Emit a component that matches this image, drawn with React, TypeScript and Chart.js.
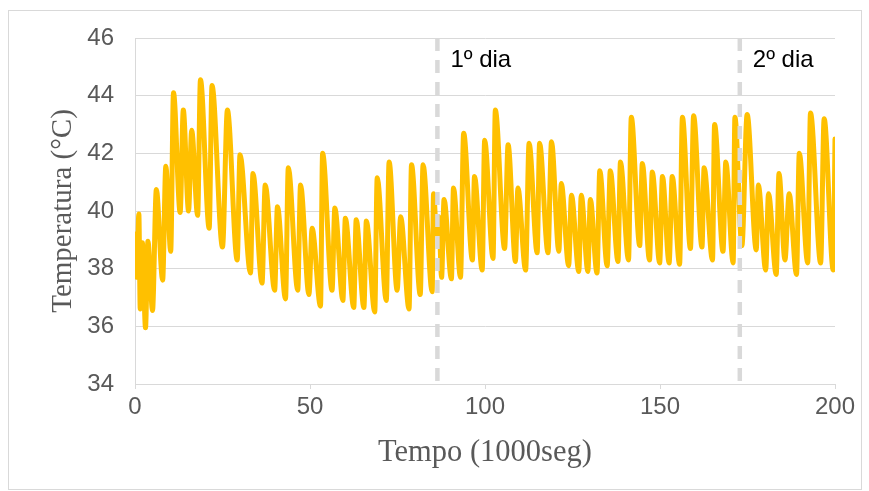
import React, { useEffect, useRef } from 'react';
import { Chart, registerables } from 'chart.js';

Chart.register(...registerables);

// Tempo (milhares de segundos) de cada pico e vale da curva
const tempo: number[] = [
  0, 0.5, 1.1, 1.5, 2.1, 3.0, 3.7, 5.0, 6.1, 7.9,
  8.8, 10.2, 11.0, 12.9, 13.8, 15.3, 16.2, 17.9, 18.7, 21.2,
  22.0, 25.0, 26.4, 29.2, 30.0, 33.0, 33.7, 36.3, 37.2, 39.9,
  40.7, 43.0, 43.8, 46.5, 47.3, 49.7, 50.6, 53.0, 53.6, 56.3,
  57.1, 59.4, 60.1, 62.5, 63.2, 65.4, 66.1, 68.5, 69.2, 71.8,
  72.6, 74.9, 75.9, 78.3, 79.0, 81.5, 82.3, 84.9, 85.3, 86.2,
  86.8, 87.6, 88.3, 90.4, 91.0, 93.0, 93.9, 96.4, 97.0, 99.2,
  99.9, 102.3, 102.95, 105.6, 106.6, 108.7, 109.4, 111.6, 112.6, 114.9,
  115.6, 118.0, 119.0, 121.1, 121.8, 123.9, 124.7, 126.8, 127.5, 129.4,
  130.1, 132.0, 132.8, 134.9, 135.8, 138.0, 138.7, 141.0, 141.8, 144.2,
  144.95, 147.0, 147.8, 149.9, 150.7, 152.6, 153.5, 155.6, 156.4, 158.7,
  159.6, 162.0, 162.6, 165.0, 165.6, 168.0, 168.8, 170.9, 171.4, 173.4,
  174.9, 177.5, 178.1, 180.2, 181.0, 183.2, 184.0, 185.7, 186.9, 189.0,
  189.8, 192.2, 193.0, 195.9, 196.9, 199.5, 200,
];

// Temperatura (°C) correspondente a cada instante acima
const temperatura: number[] = [
  39.2, 37.7, 39.9, 36.6, 38.9, 35.95, 38.95, 36.55, 40.75, 37.6,
  41.55, 38.6, 44.1, 39.95, 43.5, 40.0, 42.8, 39.85, 44.55, 39.4,
  44.35, 38.75, 43.5, 38.3, 41.95, 37.85, 41.3, 37.5, 40.9, 37.25,
  40.15, 36.95, 41.5, 37.25, 40.9, 37.1, 39.4, 36.7, 42.0, 37.25,
  40.1, 36.9, 39.75, 36.65, 39.7, 36.65, 39.65, 36.5, 41.15, 36.9,
  41.7, 37.25, 39.8, 36.6, 41.6, 37.1, 41.6, 37.2, 40.6, 39.2,
  39.8, 37.7, 40.4, 37.65, 40.8, 37.7, 42.7, 38.3, 41.2, 37.95,
  42.45, 38.35, 43.5, 38.7, 42.3, 38.25, 40.8, 37.95, 42.35, 38.55,
  42.35, 38.55, 42.4, 38.6, 40.95, 38.1, 40.55, 37.9, 40.55, 37.9,
  40.4, 37.85, 41.4, 38.1, 41.4, 38.25, 41.7, 38.3, 43.25, 38.8,
  41.65, 38.3, 41.35, 38.2, 41.2, 38.2, 41.2, 38.15, 43.25, 38.7,
  43.3, 38.75, 41.5, 38.3, 43.0, 38.6, 41.7, 38.2, 43.25, 38.8,
  43.35, 38.65, 40.9, 37.95, 40.6, 37.8, 41.3, 38.3, 40.6, 37.8,
  42.0, 38.2, 43.4, 38.2, 43.2, 37.95, 42.5,
];

// Marcos de cada dia completo (86 400 s)
const marcosDia: number[] = [86.4, 172.8];
const rotulosDia: string[] = ['1º dia', '2º dia'];

const tempoMin = 0;
const tempoMax = 200;
const tempoPasso = 50;
const tempMin = 34;
const tempMax = 46;
const tempPasso = 2;

const CINZA_TEXTO = '#595959';
const CINZA_GRADE = '#d9d9d9';
const FONTE_NUM = '"Liberation Sans", Arial, sans-serif';
const FONTE_TITULO = '"Liberation Serif", "Times New Roman", serif';

const rotulosPlugin = {
  id: 'rotulosDia',
  afterDatasetsDraw(chart: any) {
    const { ctx, chartArea, scales } = chart;
    ctx.save();
    ctx.font = `24px ${FONTE_NUM}`;
    ctx.fillStyle = '#000000';
    ctx.textAlign = 'left';
    ctx.textBaseline = 'middle';
    marcosDia.forEach((m, i) => {
      const x = scales.x.getPixelForValue(m);
      ctx.fillText(rotulosDia[i], x + 13, chartArea.top + 22);
    });
    ctx.restore();
  },
};

const molduraPlugin = {
  id: 'moldura',
  beforeDraw(chart: any) {
    const { ctx } = chart;
    ctx.save();
    ctx.fillStyle = '#ffffff';
    ctx.fillRect(0, 0, chart.width, chart.height);
    ctx.strokeStyle = CINZA_GRADE;
    ctx.lineWidth = 1;
    ctx.strokeRect(8.5, 10.5, 853, 479);
    ctx.restore();
  },
};

export default function App() {
  const canvasRef = useRef<HTMLCanvasElement | null>(null);

  useEffect(() => {
    if (!canvasRef.current) return;

    const serie = tempo.map((t, i) => ({ x: t, y: temperatura[i] }));

    const linhasDia = marcosDia.map((m) => ({
      data: [
        { x: m, y: tempMax },
        { x: m, y: tempMin },
      ],
      borderColor: CINZA_GRADE,
      borderWidth: 4.5,
      borderDash: [13, 9],
      pointRadius: 0,
      tension: 0,
      order: 0,
    }));

    const chart = new Chart(canvasRef.current, {
      type: 'line',
      data: {
        datasets: [
          {
            data: serie,
            borderColor: '#FFC000',
            borderWidth: 5,
            pointRadius: 0,
            cubicInterpolationMode: 'monotone',
            borderJoinStyle: 'round',
            borderCapStyle: 'round',
            order: 1,
          },
          ...linhasDia,
        ],
      } as any,
      options: {
        animation: false,
        responsive: false,
        maintainAspectRatio: false,
        layout: { padding: { top: 38, right: 34, bottom: 0, left: 0 } },
        plugins: {
          legend: { display: false },
          tooltip: { enabled: false },
        },
        scales: {
          x: {
            type: 'linear',
            min: tempoMin,
            max: tempoMax,
            ticks: {
              stepSize: tempoPasso,
              color: CINZA_TEXTO,
              font: { family: FONTE_NUM, size: 24 },
              padding: 4,
              maxRotation: 0,
            },
            grid: {
              drawOnChartArea: false,
              drawTicks: true,
              tickLength: 5,
              color: CINZA_GRADE,
            },
            border: { color: CINZA_GRADE },
            title: {
              display: true,
              text: 'Tempo (1000seg)',
              color: CINZA_TEXTO,
              font: { family: FONTE_TITULO, size: 30.5 },
              padding: { top: 0, bottom: 20 },
            },
            afterFit(scale: any) {
              scale.height = 107;
            },
          },
          y: {
            type: 'linear',
            min: tempMin,
            max: tempMax,
            ticks: {
              stepSize: tempPasso,
              color: CINZA_TEXTO,
              font: { family: FONTE_NUM, size: 24 },
              padding: 21,
            },
            grid: { color: CINZA_GRADE, drawTicks: false },
            border: { color: CINZA_GRADE },
            title: {
              display: true,
              text: 'Temperatura (°C)',
              color: CINZA_TEXTO,
              font: { family: FONTE_TITULO, size: 29 },
              padding: { top: 46, bottom: 0 },
            },
            afterFit(scale: any) {
              scale.width = 135;
            },
          },
        },
      } as any,
      plugins: [molduraPlugin, rotulosPlugin],
    });

    return () => chart.destroy();
  }, []);

  return (
    <div style={{ position: 'absolute', left: 0, top: 0, width: 869, height: 491 }}>
      <canvas ref={canvasRef} width={869} height={491} style={{ display: 'block' }} />
    </div>
  );
}
